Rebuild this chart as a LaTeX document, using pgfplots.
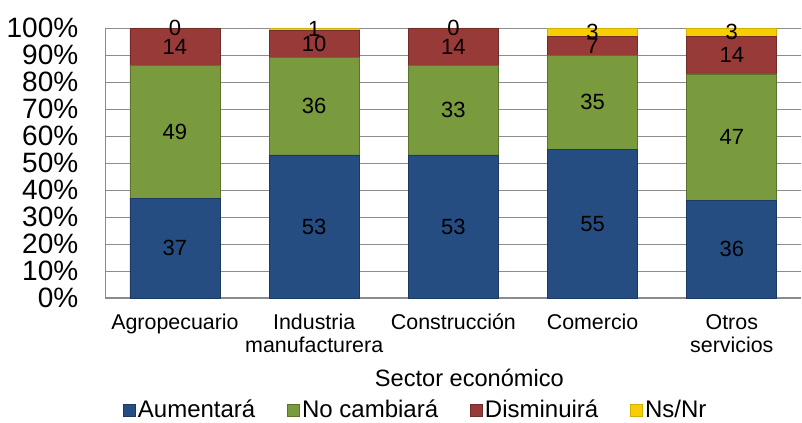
\documentclass[border=0pt]{standalone}
\usepackage{pgfplots}
\pgfplotsset{compat=1.18}
\usepackage{pgfplotstable}
\usepackage{fontspec}
\setmainfont{Liberation Sans}
\definecolor{cBlue}{HTML}{254D82}
\definecolor{cGreen}{HTML}{7A9A3E}
\definecolor{cRed}{HTML}{983A37}
\definecolor{cYellow}{HTML}{F7CF00}
\definecolor{cGrid}{HTML}{8C8C8C}
% y columns for stacking; M-columns hold the printed values
\pgfplotstableread{
x A N D S MA MN MD MS
0 37 49 14 0.01 37 49 14 0
1 53 36 10 1 53 36 10 1
2 53 33 14 0.01 53 33 14 0
3 55 35 7 3 55 35 7 3
4 36 47 14 3 36 47 14 3
}\data
\begin{document}
\begin{tikzpicture}
\begin{axis}[
  scale only axis, width=348pt, height=135pt,
  ybar stacked, bar width=45pt,
  xmin=-0.5, xmax=4.5, ymin=0, ymax=100,
  clip=false,
  axis lines*=left,
  axis line style={cGrid, line width=0.6pt},
  ymajorgrids, grid style={cGrid, line width=0.5pt},
  xtick={0,1,2,3,4},
  xticklabels={Agropecuario,{Industria\\manufacturera},Construcción,Comercio,{Otros\\servicios}},
  xticklabel style={align=center, font=\fontsize{10.7}{11.5}\selectfont, yshift=-4.5pt},
  ytick={0,10,...,100},
  yticklabels={0\%,10\%,20\%,30\%,40\%,50\%,60\%,70\%,80\%,90\%,100\%},
  yticklabel style={font=\fontsize{14}{14}\selectfont, xshift=-10pt},
  major tick length=0pt,
  xlabel={Sector económico},
  xlabel style={font=\fontsize{11.8}{12}\selectfont, at={(axis description cs:0.523,0)}, anchor=center, yshift=-40pt},
  point meta=explicit,
  nodes near coords={\pgfmathprintnumber[assume math mode=true]{\pgfplotspointmeta}},
  every node near coord/.append style={font=\fontsize{11}{12}\selectfont, anchor=center, text=black},
  legend columns=4,
  legend style={draw=none, fill=none, font=\fontsize{12}{13}\selectfont,
    at={(axis description cs:0.446,0)}, anchor=center, yshift=-56pt,
    nodes={inner sep=1pt},
    /tikz/every even column/.append style={column sep=15pt},
    inner sep=0pt},
  legend image code/.code={\fill[#1] (0pt,-3pt) rectangle (6pt,3pt);},
  after end axis/.code={\path (rel axis cs:0,1) ++(0pt,14pt);},
]
\addplot[fill=cBlue, draw=cBlue!75!black] table[x=x, y=A, meta=MA] {\data};
\addplot[fill=cGreen, draw=cGreen!75!black] table[x=x, y=N, meta=MN] {\data};
\addplot[fill=cRed, draw=cRed!75!black] table[x=x, y=D, meta=MD] {\data};
\addplot[fill=cYellow, draw=cYellow!85!black] table[x=x, y=S, meta=MS] {\data};
\legend{Aumentará,No cambiará,Disminuirá,Ns/Nr}
\end{axis}
\end{tikzpicture}
\end{document}
